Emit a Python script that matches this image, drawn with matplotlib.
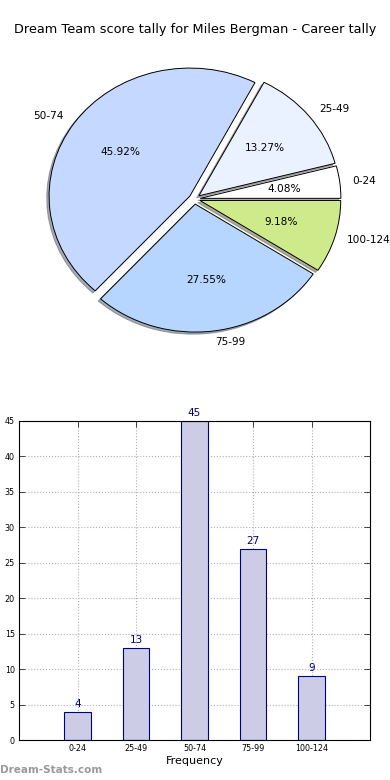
import matplotlib

matplotlib.use("Agg")
import matplotlib.pyplot as plt  # noqa: E402

TITLE = "Dream Team score tally for Miles Bergman - Career tally"
categories = ["0-24", "25-49", "50-74", "75-99", "100-124"]
counts = [4, 13, 45, 27, 9]
pie_colors = ["#ffffff", "#ebf2ff", "#c5d8ff", "#b7d6ff", "#cfea8a"]
yticks = list(range(0, 50, 5))

fig = plt.figure(figsize=(3.9, 7.8), dpi=100)

# pie (top) -- elliptical, like the old matplotlib output
pw, ph = 352, 320
cx, cy = 194.5, 199
ax1 = fig.add_axes([(cx - pw / 2) / 390, 1 - (cy + ph / 2) / 780, pw / 390, ph / 780])
wedges, texts, autotexts = ax1.pie(
    counts,
    labels=categories,
    colors=pie_colors,
    explode=[0.04] * len(counts),
    autopct="%.2f%%",
    labeldistance=1.09,
    shadow=dict(ox=-0.012, oy=-0.012, shade=0.6),
    wedgeprops=dict(edgecolor="black", linewidth=0.7),
    textprops=dict(fontsize=7.6),
)
ax1.set_aspect("auto")
ax1.set_xlim(-1.25, 1.25)
ax1.set_ylim(-1.25, 1.25)
fig.text(0.5, 1 - 30 / 780, TITLE, ha="center", va="center", fontsize=9.3)

# bar chart (bottom)
ax2 = fig.add_axes([19 / 390, 1 - 740 / 780, 351 / 390, 319 / 780])
x = range(len(counts))
ax2.bar(x, counts, width=0.45, color="#ccccE6", edgecolor="navy", linewidth=0.8, zorder=2)
for xi, c in zip(x, counts):
    ax2.annotate(str(c), (xi, c), xytext=(0, 2), textcoords="offset points",
                 ha="center", va="bottom", color="navy", fontsize=7.5)
ax2.set_xlim(-1, 5)
ax2.set_ylim(0, 45)
ax2.set_xticks(list(x))
ax2.set_xticklabels(categories)
ax2.set_yticks(yticks)
ax2.tick_params(direction="in", top=True, right=True, labelsize=5.8, length=4, width=0.5,
                colors="black", pad=3)
ax2.grid(True, linestyle=":", color="#b0b0b0", linewidth=0.8, zorder=0)
ax2.set_axisbelow(True)
for s in ax2.spines.values():
    s.set_linewidth(0.8)
ax2.set_xlabel("Frequency", fontsize=8, labelpad=2)

fig.text(0.0, 1 - 770 / 780, "Dream-Stats.com", ha="left", va="center",
         fontsize=7.5, color="#999999", fontweight="bold")

fig.savefig("out.png", dpi=100)
